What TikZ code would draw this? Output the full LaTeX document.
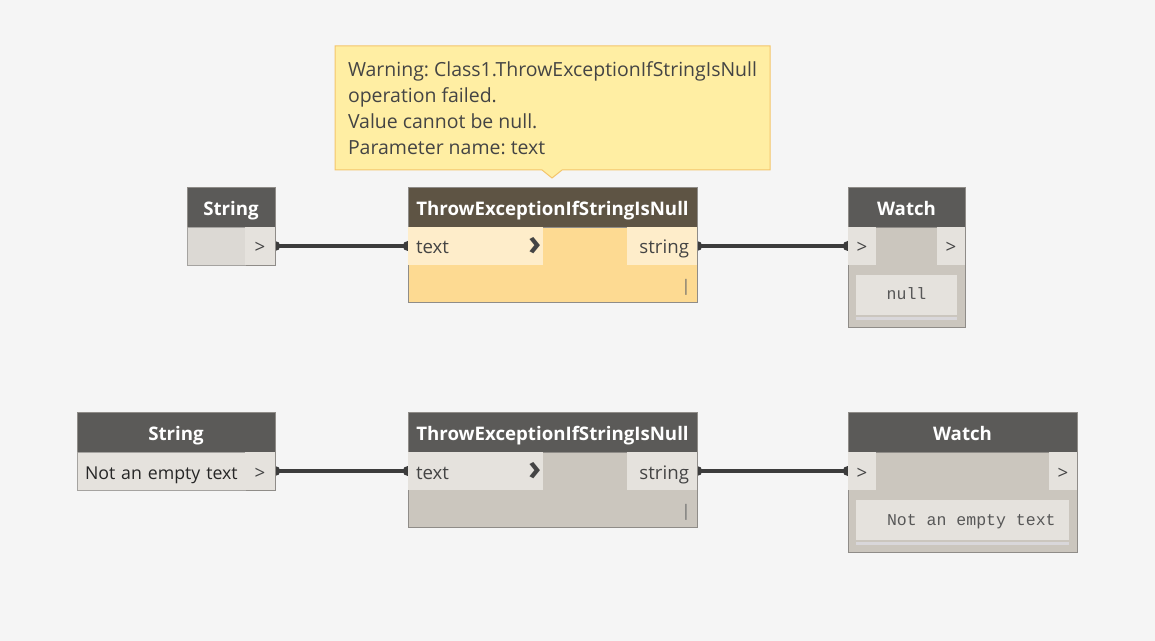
\documentclass[tikz,border=0pt]{standalone}
\usepackage{fontspec}
\setmainfont{Open Sans}
\setmonofont{Liberation Mono}
\usetikzlibrary{shapes.callouts,backgrounds}
\frenchspacing

\definecolor{bgcol}{HTML}{F5F5F5}
\definecolor{hdrgray}{HTML}{5B5A58}
\definecolor{hdrwarn}{HTML}{5E5444}
\definecolor{bodygray}{HTML}{CBC6BE}
\definecolor{boxgray}{HTML}{E5E2DD}
\definecolor{bodywarn}{HTML}{FDDA92}
\definecolor{boxwarn}{HTML}{FEEDCA}
\definecolor{edgegray}{HTML}{8F8C88}
\definecolor{wirecol}{HTML}{3C3C3C}
\definecolor{warnfill}{HTML}{FFEEA3}
\definecolor{warnedge}{HTML}{F4C56B}
\definecolor{txtgray}{HTML}{444444}
\definecolor{stripcol}{HTML}{D9D7DA}

\newcommand{\pxu}{0.75pt}
\newcommand{\hdrfont}{\fontsize{14}{16}\selectfont\bfseries}
\newcommand{\lblfont}{\fontsize{14}{16}\selectfont}
\newcommand{\valfont}{\fontsize{12.4}{14}\selectfont\ttfamily}
\newcommand{\chevfont}{\fontsize{27}{27}\selectfont\bfseries}

\tikzset{
    hdr/.style = {draw = edgegray, fill = hdrgray, text = white, font = \hdrfont,
        minimum height = 40*\pxu, inner sep = 0pt, text height = 13.2pt, text depth = 0pt},
    nodebody/.style = {draw = edgegray, fill = bodygray, inner sep = 0pt},
    portbox/.style = {fill = boxgray, text = txtgray, font = \lblfont,
        minimum height = 38*\pxu, inner sep = 0pt, text height = 12pt, text depth = 0pt},
    valbox/.style = {portbox, draw = edgegray!80, text = black!85},
    dispbox/.style = {fill = boxgray, text = txtgray!90, font = \valfont,
        minimum height = 40*\pxu, inner sep = 0pt, text height = 7.5pt, text depth = 0pt},
    barstrip/.style = {fill = stripcol, minimum height = 3*\pxu, inner sep = 0pt},
    chev/.style = {text = txtgray, font = \chevfont, inner sep = 0pt},
    lace/.style = {text = txtgray!80, font = \fontsize{12}{12}\selectfont, inner sep = 0pt},
    wire/.style = {draw = wirecol, line width = 3pt},
    warnbox/.style = {rectangle callout, draw = warnedge, fill = warnfill, line width = 0.75pt,
        text = txtgray, font = \fontsize{14.6}{19.5}\selectfont, align = left,
        minimum width = 435*\pxu, minimum height = 124*\pxu, inner sep = 0pt,
        callout pointer width = 20*\pxu}
}

\begin{document}
\begin{tikzpicture}[x = \pxu, y = -\pxu]
    \useasboundingbox (0,0) rectangle (1155,641);

    %Warning
    \coordinate (tipA) at (552,178);
    \node [warnbox, callout absolute pointer = {(tipA)}]
    (warn)at(552.5,108){Warning: Class1.ThrowExceptionIfStringIsNull\\operation failed.\\Value cannot be null.\\Parameter name: text};

    %String (top)
    \node [nodebody, fill = boxgray, minimum width = 88*\pxu, minimum height = 38*\pxu]
    (strAbody)at(231,246){};
    \node [hdr, minimum width = 88*\pxu]
    (strA)at(231,207){String};
    \node [valbox, fill = boxgray!96!black, minimum width = 58*\pxu]
    (strAval)at(216,246){};
    \node [portbox, minimum width = 30*\pxu]
    (strAport)at(260,246){>};

    %ThrowExceptionIfStringIsNull (top, warning)
    \node [nodebody, fill = bodywarn, minimum width = 289*\pxu, minimum height = 75*\pxu]
    (thrAbody)at(552.5,264.5){};
    \node [hdr, fill = hdrwarn, minimum width = 289*\pxu]
    (thrA)at(552.5,207){ThrowExceptionIfStringIsNull};
    \node [portbox, fill = boxwarn, text width = 119*\pxu, inner xsep = 8*\pxu, align = left]
    (thrAin)at(475.5,246){text};
    \node [portbox, fill = boxwarn, text width = 54*\pxu, inner xsep = 8*\pxu, align = right]
    (thrAout)at(662,246){string};
    \node [chev]
    (thrAchev)at(535,246){›};
    \node [lace]
    (thrAlace)at(686,287){|};

    %Watch (top)
    \node [nodebody, minimum width = 117*\pxu, minimum height = 100*\pxu]
    (wAbody)at(906.5,277){};
    \node [hdr, minimum width = 117*\pxu]
    (wA)at(906.5,207){Watch};
    \node [portbox, minimum width = 28*\pxu]
    (wAin)at(862,246){>};
    \node [portbox, minimum width = 28*\pxu]
    (wAout)at(951,246){>};
    \node [dispbox, minimum width = 101*\pxu]
    (wAval)at(906.5,295){null};
    \node [barstrip, minimum width = 101*\pxu]
    (wAbar)at(906.5,318.5){};

    %String (bottom)
    \node [nodebody, fill = boxgray, minimum width = 198*\pxu, minimum height = 38*\pxu]
    (strBbody)at(176,471){};
    \node [hdr, minimum width = 198*\pxu]
    (strB)at(176,432){String};
    \node [valbox, font = \fontsize{13.3}{16}\selectfont, text width = 152*\pxu, inner xsep = 8*\pxu, align = left]
    (strBval)at(161,471){\mbox{Not an empty text}};
    \node [portbox, minimum width = 30*\pxu]
    (strBport)at(260,471){>};

    %ThrowExceptionIfStringIsNull (bottom)
    \node [nodebody, minimum width = 289*\pxu, minimum height = 75*\pxu]
    (thrBbody)at(552.5,489.5){};
    \node [hdr, minimum width = 289*\pxu]
    (thrB)at(552.5,432){ThrowExceptionIfStringIsNull};
    \node [portbox, text width = 119*\pxu, inner xsep = 8*\pxu, align = left]
    (thrBin)at(475.5,471){text};
    \node [portbox, text width = 54*\pxu, inner xsep = 8*\pxu, align = right]
    (thrBout)at(662,471){string};
    \node [chev]
    (thrBchev)at(535,471){›};
    \node [lace]
    (thrBlace)at(686,512){|};

    %Watch (bottom)
    \node [nodebody, minimum width = 229*\pxu, minimum height = 100*\pxu]
    (wBbody)at(962.5,502){};
    \node [hdr, minimum width = 229*\pxu]
    (wB)at(962.5,432){Watch};
    \node [portbox, minimum width = 28*\pxu]
    (wBin)at(862,471){>};
    \node [portbox, minimum width = 28*\pxu]
    (wBout)at(1063,471){>};
    \node [dispbox, text width = 151*\pxu, inner xsep = 31*\pxu, align = left]
    (wBval)at(962.5,520){\mbox{\spaceskip=0.6em Not an empty text}};
    \node [barstrip, minimum width = 213*\pxu]
    (wBbar)at(962.5,543.5){};

    %Wires
    \begin{scope}[on background layer]
        \fill [bgcol] (0,0) rectangle (1155,641);
        \draw [wire](strAport.east)--(thrAin.west);
        \draw [wire](thrAout.east)--(wAin.west);
        \draw [wire](strBport.east)--(thrBin.west);
        \draw [wire](thrBout.east)--(wBin.west);
        \fill [wirecol] (strAport.east) circle (3.75pt) (thrAin.west) circle (3.75pt)
            (thrAout.east) circle (3.75pt) (wAin.west) circle (3.75pt);
        \fill [wirecol] (strBport.east) circle (3.75pt) (thrBin.west) circle (3.75pt)
            (thrBout.east) circle (3.75pt) (wBin.west) circle (3.75pt);
    \end{scope}

\end{tikzpicture}
\end{document}
